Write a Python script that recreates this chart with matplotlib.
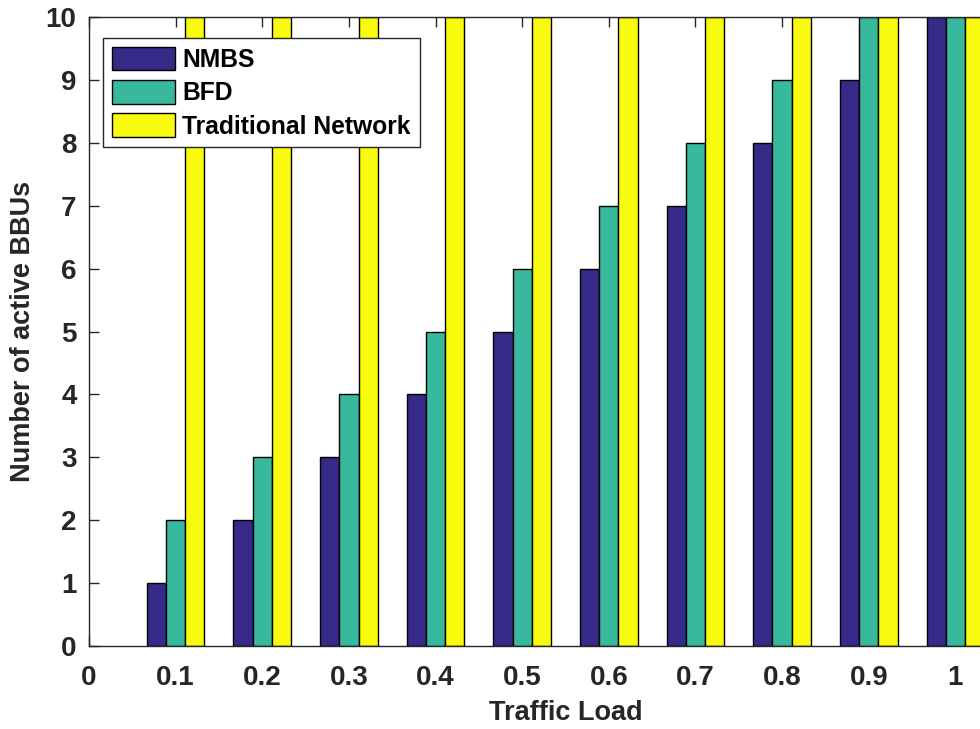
import matplotlib
matplotlib.use("Agg")
import matplotlib.pyplot as plt
import numpy as np

plt.rcParams['font.family'] = ['Liberation Sans', 'DejaVu Sans']
plt.rcParams['font.weight'] = 'bold'

loads = [0.1, 0.2, 0.3, 0.4, 0.5, 0.6, 0.7, 0.8, 0.9, 1.0]
nmbs = [1, 2, 3, 4, 5, 6, 7, 8, 9, 10]
bfd = [2, 3, 4, 5, 6, 7, 8, 9, 10, 10]
traditional = [10, 10, 10, 10, 10, 10, 10, 10, 10, 10]
series_names = ["NMBS", "BFD", "Traditional Network"]
colors = ["#352A87", "#38B99E", "#F9FB0E"]
xticks = [0, 0.1, 0.2, 0.3, 0.4, 0.5, 0.6, 0.7, 0.8, 0.9, 1.0]
xticklabels = ["0", "0.1", "0.2", "0.3", "0.4", "0.5", "0.6", "0.7", "0.8", "0.9", "1"]

W, H = 980, 729
fig = plt.figure(figsize=(W / 100, H / 100), dpi=100)
left, right, top, bottom = 89, 1042, 17, 646
ax = fig.add_axes([left / W, 1 - bottom / H, (right - left) / W, (bottom - top) / H])

x = np.array(loads)
bw = 0.0222
for i, (vals, name, c) in enumerate(zip([nmbs, bfd, traditional], series_names, colors)):
    ax.bar(x + (i - 1) * bw, vals, width=bw, color=c, edgecolor="black",
           linewidth=1.0, label=name, zorder=2)

ax.set_xlim(0, 1.1)
ax.set_ylim(0, 10)
ax.set_xticks(xticks)
ax.set_xticklabels(xticklabels)
ax.set_yticks(range(0, 11))
ax.tick_params(direction="in", length=7.5, width=1, colors="#262626",
               labelsize=20, top=True, right=True)
ax.tick_params(axis="x", pad=14)
ax.tick_params(axis="y", pad=9)
for lbl in ax.get_xticklabels() + ax.get_yticklabels():
    lbl.set_fontweight("bold")
for s in ax.spines.values():
    s.set_color("#262626")
    s.set_linewidth(1.0)

ax.set_xlabel("Traffic Load", fontsize=19.5, fontweight="bold", color="#262626", labelpad=6.5)
ax.set_ylabel("Number of active BBUs", fontsize=19.5, fontweight="bold", color="#262626", labelpad=7)

leg = ax.legend(loc="upper left", bbox_to_anchor=((103 - left) / (right - left), 1 - (38 - top) / (bottom - top)),
                prop={"size": 17.7, "weight": "bold"}, frameon=True, fancybox=False,
                edgecolor="#262626", framealpha=1.0,
                borderpad=0.36, labelspacing=0.33, handlelength=2.56, handleheight=1.1,
                handletextpad=0.3, borderaxespad=0)
leg.get_frame().set_linewidth(1.0)
for t in leg.get_texts():
    t.set_color("black")

fig.savefig("out.png", dpi=100)
